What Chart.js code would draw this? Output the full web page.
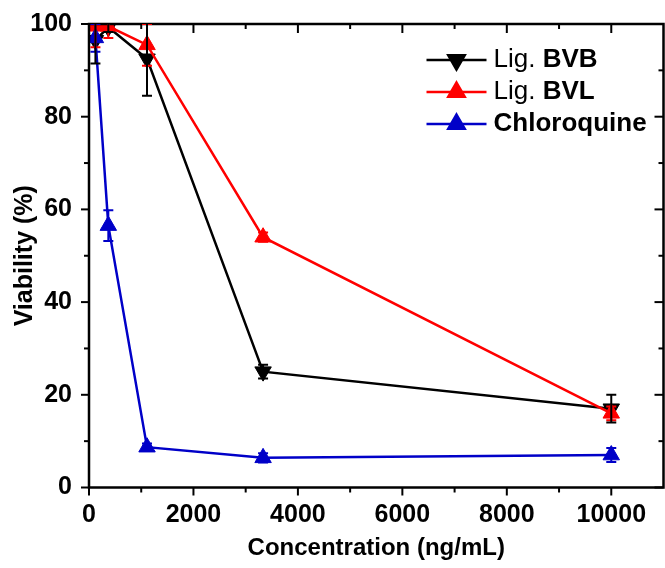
<!DOCTYPE html>
<html>
<head>
<meta charset="utf-8">
<script src="https://cdn.jsdelivr.net/npm/chart.js@4"></script>
<style>
  html, body { margin: 0; padding: 0; background: #fff; overflow: hidden; }
  #wrap { width: 665px; height: 568px; overflow: hidden; }
</style>
</head>
<body>
<div id="wrap"><canvas id="chart" width="674" height="568"></canvas></div>
<script>
// concentrations in ng/mL (3-fold dilutions)
const concentrations = [123, 370, 1111, 3333, 10000];

const bvbViability = [96.5, 99.3, 92.5, 25, 17];
const bvbError = [5, 1, 8, 1.5, 3];
const bvlViability = [99.5, 99.5, 95.5, 54, 16];
const bvlError = [4.5, 2.5, 4.5, 1, 1.5];
const chloroViability = [97, 56.5, 8.7, 6.4, 7];
const chloroError = [3, 3.3, 0.8, 1, 1.5];

const xMajorTicks = [0, 2000, 4000, 6000, 8000, 10000];
const xMinorTicks = [1000, 3000, 5000, 7000, 9000];
const yMajorTicks = [0, 20, 40, 60, 80, 100];
const yMinorTicks = [10, 30, 50, 70, 90];

const FONT = "'Liberation Sans', Arial, sans-serif";

function toPoints(values) {
    return concentrations.map((c, i) => ({ x: c, y: values[i] }));
}

// draws the box around the plot + inward/outward tick marks
const frameTicks = {
    id: "frameTicks",
    afterDatasetsDraw(chart) {
        const { ctx, chartArea: a, scales: { x, y } } = chart;
        ctx.save();
        ctx.strokeStyle = "#000";
        ctx.lineWidth = 2.5;
        ctx.strokeRect(a.left, a.top, a.right - a.left, a.bottom - a.top);
        ctx.lineWidth = 2;
        const tick = (x1, y1, x2, y2) => { ctx.beginPath(); ctx.moveTo(x1, y1); ctx.lineTo(x2, y2); ctx.stroke(); };
        xMajorTicks.forEach(v => {
            const px = x.getPixelForValue(v);
            tick(px, a.bottom, px, a.bottom + 8);
            tick(px, a.top, px, a.top + 9);
        });
        xMinorTicks.forEach(v => {
            const px = x.getPixelForValue(v);
            tick(px, a.bottom, px, a.bottom + 5);
            tick(px, a.top, px, a.top + 5);
        });
        yMajorTicks.forEach(v => {
            const py = y.getPixelForValue(v);
            tick(a.left - 8, py, a.left, py);
            tick(a.right - 9, py, a.right, py);
        });
        yMinorTicks.forEach(v => {
            const py = y.getPixelForValue(v);
            tick(a.left - 5, py, a.left, py);
            tick(a.right - 5, py, a.right, py);
        });
        ctx.restore();
    }
};

// vertical error bars with caps
const errorBars = {
    id: "errorBars",
    afterDatasetsDraw(chart) {
        const { ctx, chartArea: a, scales: { x, y } } = chart;
        ctx.save();
        ctx.beginPath();
        ctx.rect(a.left, a.top, a.right - a.left, a.bottom - a.top);
        ctx.clip();
        ctx.lineWidth = 2;
        [2, 1, 0].forEach(di => {
            const ds = chart.data.datasets[di];
            ctx.strokeStyle = ds.borderColor;
            ds.errors.forEach((e, i) => {
                const px = x.getPixelForValue(concentrations[i]);
                const top = y.getPixelForValue(ds.data[i].y + e);
                const bot = y.getPixelForValue(ds.data[i].y - e);
                ctx.beginPath();
                ctx.moveTo(px, top); ctx.lineTo(px, bot);
                ctx.moveTo(px - 5, top); ctx.lineTo(px + 5, top);
                ctx.moveTo(px - 5, bot); ctx.lineTo(px + 5, bot);
                ctx.stroke();
            });
        });
        ctx.restore();
    }
};

// legend with mixed normal/bold label text
const customLegend = {
    id: "customLegend",
    afterDraw(chart) {
        const { ctx, chartArea: a } = chart;
        const x0 = a.right - 237;
        ctx.save();
        chart.data.datasets.forEach((ds, i) => {
            const yy = a.top + 36 + i * 32;
            ctx.strokeStyle = ds.borderColor;
            ctx.fillStyle = ds.borderColor;
            ctx.lineWidth = 2.5;
            ctx.beginPath();
            ctx.moveTo(x0, yy); ctx.lineTo(x0 + 60, yy);
            ctx.stroke();
            Chart.helpers.drawPoint(ctx, {
                pointStyle: "triangle", rotation: ds.pointRotation || 0,
                radius: 9.5, borderWidth: 1
            }, x0 + 30, yy);
            ctx.fillStyle = "#000";
            ctx.textBaseline = "middle";
            let tx = x0 + 67;
            if (ds.prefix) {
                ctx.font = "26px " + FONT;
                ctx.fillText(ds.prefix, tx, yy);
                tx += ctx.measureText(ds.prefix).width;
            }
            ctx.font = "bold 26px " + FONT;
            ctx.fillText(ds.name, tx, yy);
        });
        ctx.restore();
    }
};

new Chart(document.getElementById("chart"), {
    type: "line",
    data: {
        datasets: [
            { label: "Lig. BVB", prefix: "Lig. ", name: "BVB", data: toPoints(bvbViability), errors: bvbError,
              borderColor: "#000", backgroundColor: "#000", pointStyle: "triangle", pointRotation: 180, order: 3 },
            { label: "Lig. BVL", prefix: "Lig. ", name: "BVL", data: toPoints(bvlViability), errors: bvlError,
              borderColor: "#f00", backgroundColor: "#f00", pointStyle: "triangle", order: 2 },
            { label: "Chloroquine", prefix: "", name: "Chloroquine", data: toPoints(chloroViability), errors: chloroError,
              borderColor: "#0000c8", backgroundColor: "#0000c8", pointStyle: "triangle", order: 1 }
        ]
    },
    options: {
        responsive: false,
        animation: false,
        devicePixelRatio: 1,
        layout: { padding: { top: 24, right: 0, left: 0, bottom: 0 } },
        elements: {
            line: { borderWidth: 2.5, tension: 0 },
            point: { radius: 9.5, borderWidth: 1 }
        },
        plugins: { legend: { display: false }, tooltip: { enabled: false } },
        scales: {
            x: {
                type: "linear", min: 0, max: 11000,
                afterFit: s => { s.height = 80.5; s.paddingLeft = 0; s.paddingRight = 0; },
                afterBuildTicks: s => { s.ticks = xMajorTicks.map(v => ({ value: v })); },
                grid: { display: false, drawTicks: false },
                border: { display: false },
                ticks: { padding: 13, color: "#000", callback: v => String(v),
                         font: { family: FONT, size: 25, weight: "bold" } },
                title: { display: true, text: "Concentration (ng/mL)", color: "#000",
                         padding: { top: 0, bottom: 5 }, font: { family: FONT, size: 24, weight: "bold" } }
            },
            y: {
                min: 0, max: 100,
                afterFit: s => { s.width = 89; s.paddingTop = 0; s.paddingBottom = 0; },
                afterBuildTicks: s => { s.ticks = yMajorTicks.map(v => ({ value: v })); },
                grid: { display: false, drawTicks: false },
                border: { display: false },
                ticks: { padding: 17, color: "#000", callback: v => String(v),
                         font: { family: FONT, size: 25, weight: "bold" } },
                title: { display: true, text: "Viability (%)", color: "#000",
                         padding: { top: 10, bottom: 0 }, font: { family: FONT, size: 25, weight: "bold" } }
            }
        }
    },
    plugins: [frameTicks, errorBars, customLegend]
});
</script>
</body>
</html>
